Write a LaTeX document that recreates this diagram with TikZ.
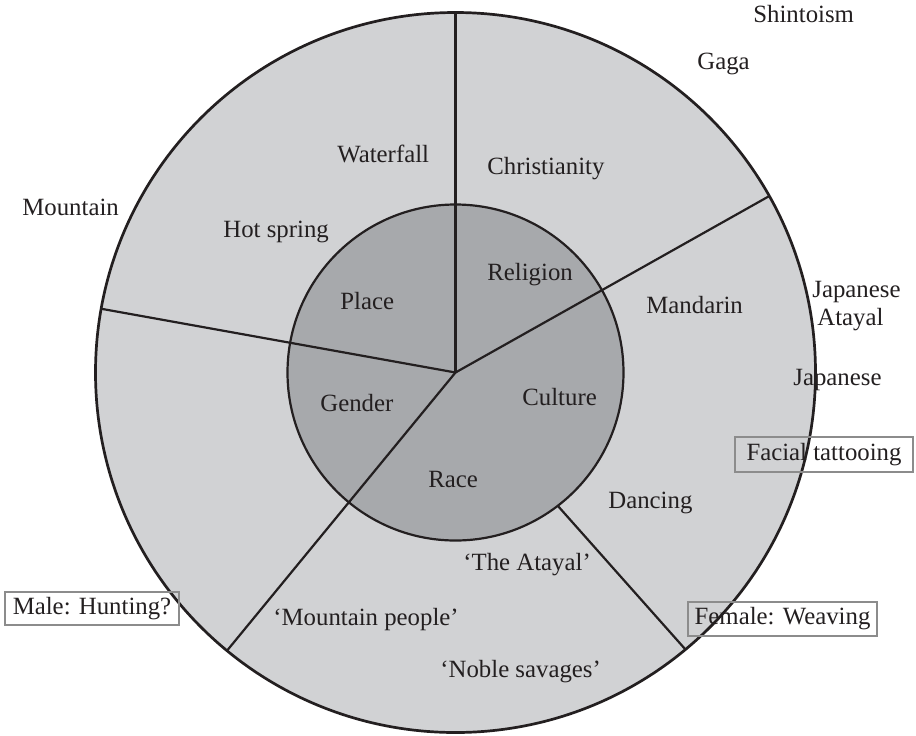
\documentclass[tikz,border=0pt]{standalone}
\usepackage{fontspec}
\setmainfont{Liberation Serif}
\definecolor{outerfill}{HTML}{D1D2D4}
\definecolor{innerfill}{HTML}{A7A9AC}
\definecolor{ink}{HTML}{231F20}
\definecolor{boxgray}{HTML}{8C8C8C}
\tikzset{
  lbl/.style={anchor=base west, inner sep=0pt, text=ink, font=\fontsize{12.4}{14}\selectfont},
  tagbox/.style={draw=boxgray, line width=1.15pt, inner sep=0pt, text=ink, font=\fontsize{12.4}{14}\selectfont},
  divider/.style={draw=ink, line width=1.1pt},
  ring/.style={draw=ink, line width=1.35pt},
}
\begin{document}
\begin{tikzpicture}[x=0.5pt, y=0.5pt]
\useasboundingbox (0,0) rectangle (916,-735);
\begin{scope}[shift={(455.5,-372.5)}]
  \coordinate (C) at (0,0);
  \fill[outerfill] (C) circle (360);
  \fill[innerfill] (C) circle (168);
  \coordinate (top) at (90:360);
  \coordinate (left) at (169.8:360);
  \coordinate (ne) at (29.35:360);
  \coordinate (sw) at (230.6:360);
  \coordinate (sein) at (-52.5:168);
  \coordinate (seout) at (-50.3:360);
  \draw[divider] (C) -- (top);
  \draw[divider] (C) -- (left);
  \draw[divider] (C) -- (ne);
  \draw[divider] (C) -- (sw);
  \draw[divider] (sein) -- (seout);
  \draw[divider] (C) circle (168);
  \draw[ring] (C) circle (360);
\end{scope}
% labels (x = left edge, y = baseline, in pixels)
\node[lbl] (shinto) at (753,-22) {Shintoism};
\node[lbl] (gaga) at (697,-69) {Gaga};
\node[lbl] (waterfall) at (337,-162) {Waterfall};
\node[lbl] (christ) at (487,-174) {Christianity};
\node[lbl] (mountain) at (22,-215) {Mountain};
\node[lbl] (hotspring) at (223,-237) {Hot spring};
\node[lbl] (religion) at (487,-280) {Religion};
\node[lbl] (place) at (340,-309) {Place};
\node[lbl] (mandarin) at (646,-313) {Mandarin};
\node[lbl] (jp1) at (812,-297) {Japanese};
\node[lbl] (atayal) at (817,-325) {Atayal};
\node[lbl] (jp2) at (793,-385) {Japanese};
\node[lbl] (gender) at (320,-411) {Gender};
\node[lbl] (culture) at (522,-405) {Culture};
\node[lbl] (race) at (428,-487) {Race};
\node[lbl] (dancing) at (608,-508) {Dancing};
\node[lbl] (theatayal) at (463,-570) {‘The Atayal’};
\node[lbl] (mtpeople) at (273,-625) {‘Mountain people’};
\node[lbl] (noble) at (440,-677) {‘Noble savages’};
% boxed labels
\node[tagbox, minimum width=89pt, minimum height=17.5pt] (facial) at (824,-454.5) {Facial tattooing};
\node[tagbox, minimum width=87pt, minimum height=16.5pt] (male) at (92,-608.5) {Male: Hunting?};
\node[tagbox, minimum width=94.5pt, minimum height=17pt] (female) at (782.5,-619) {Female: Weaving};
\end{tikzpicture}
\end{document}
